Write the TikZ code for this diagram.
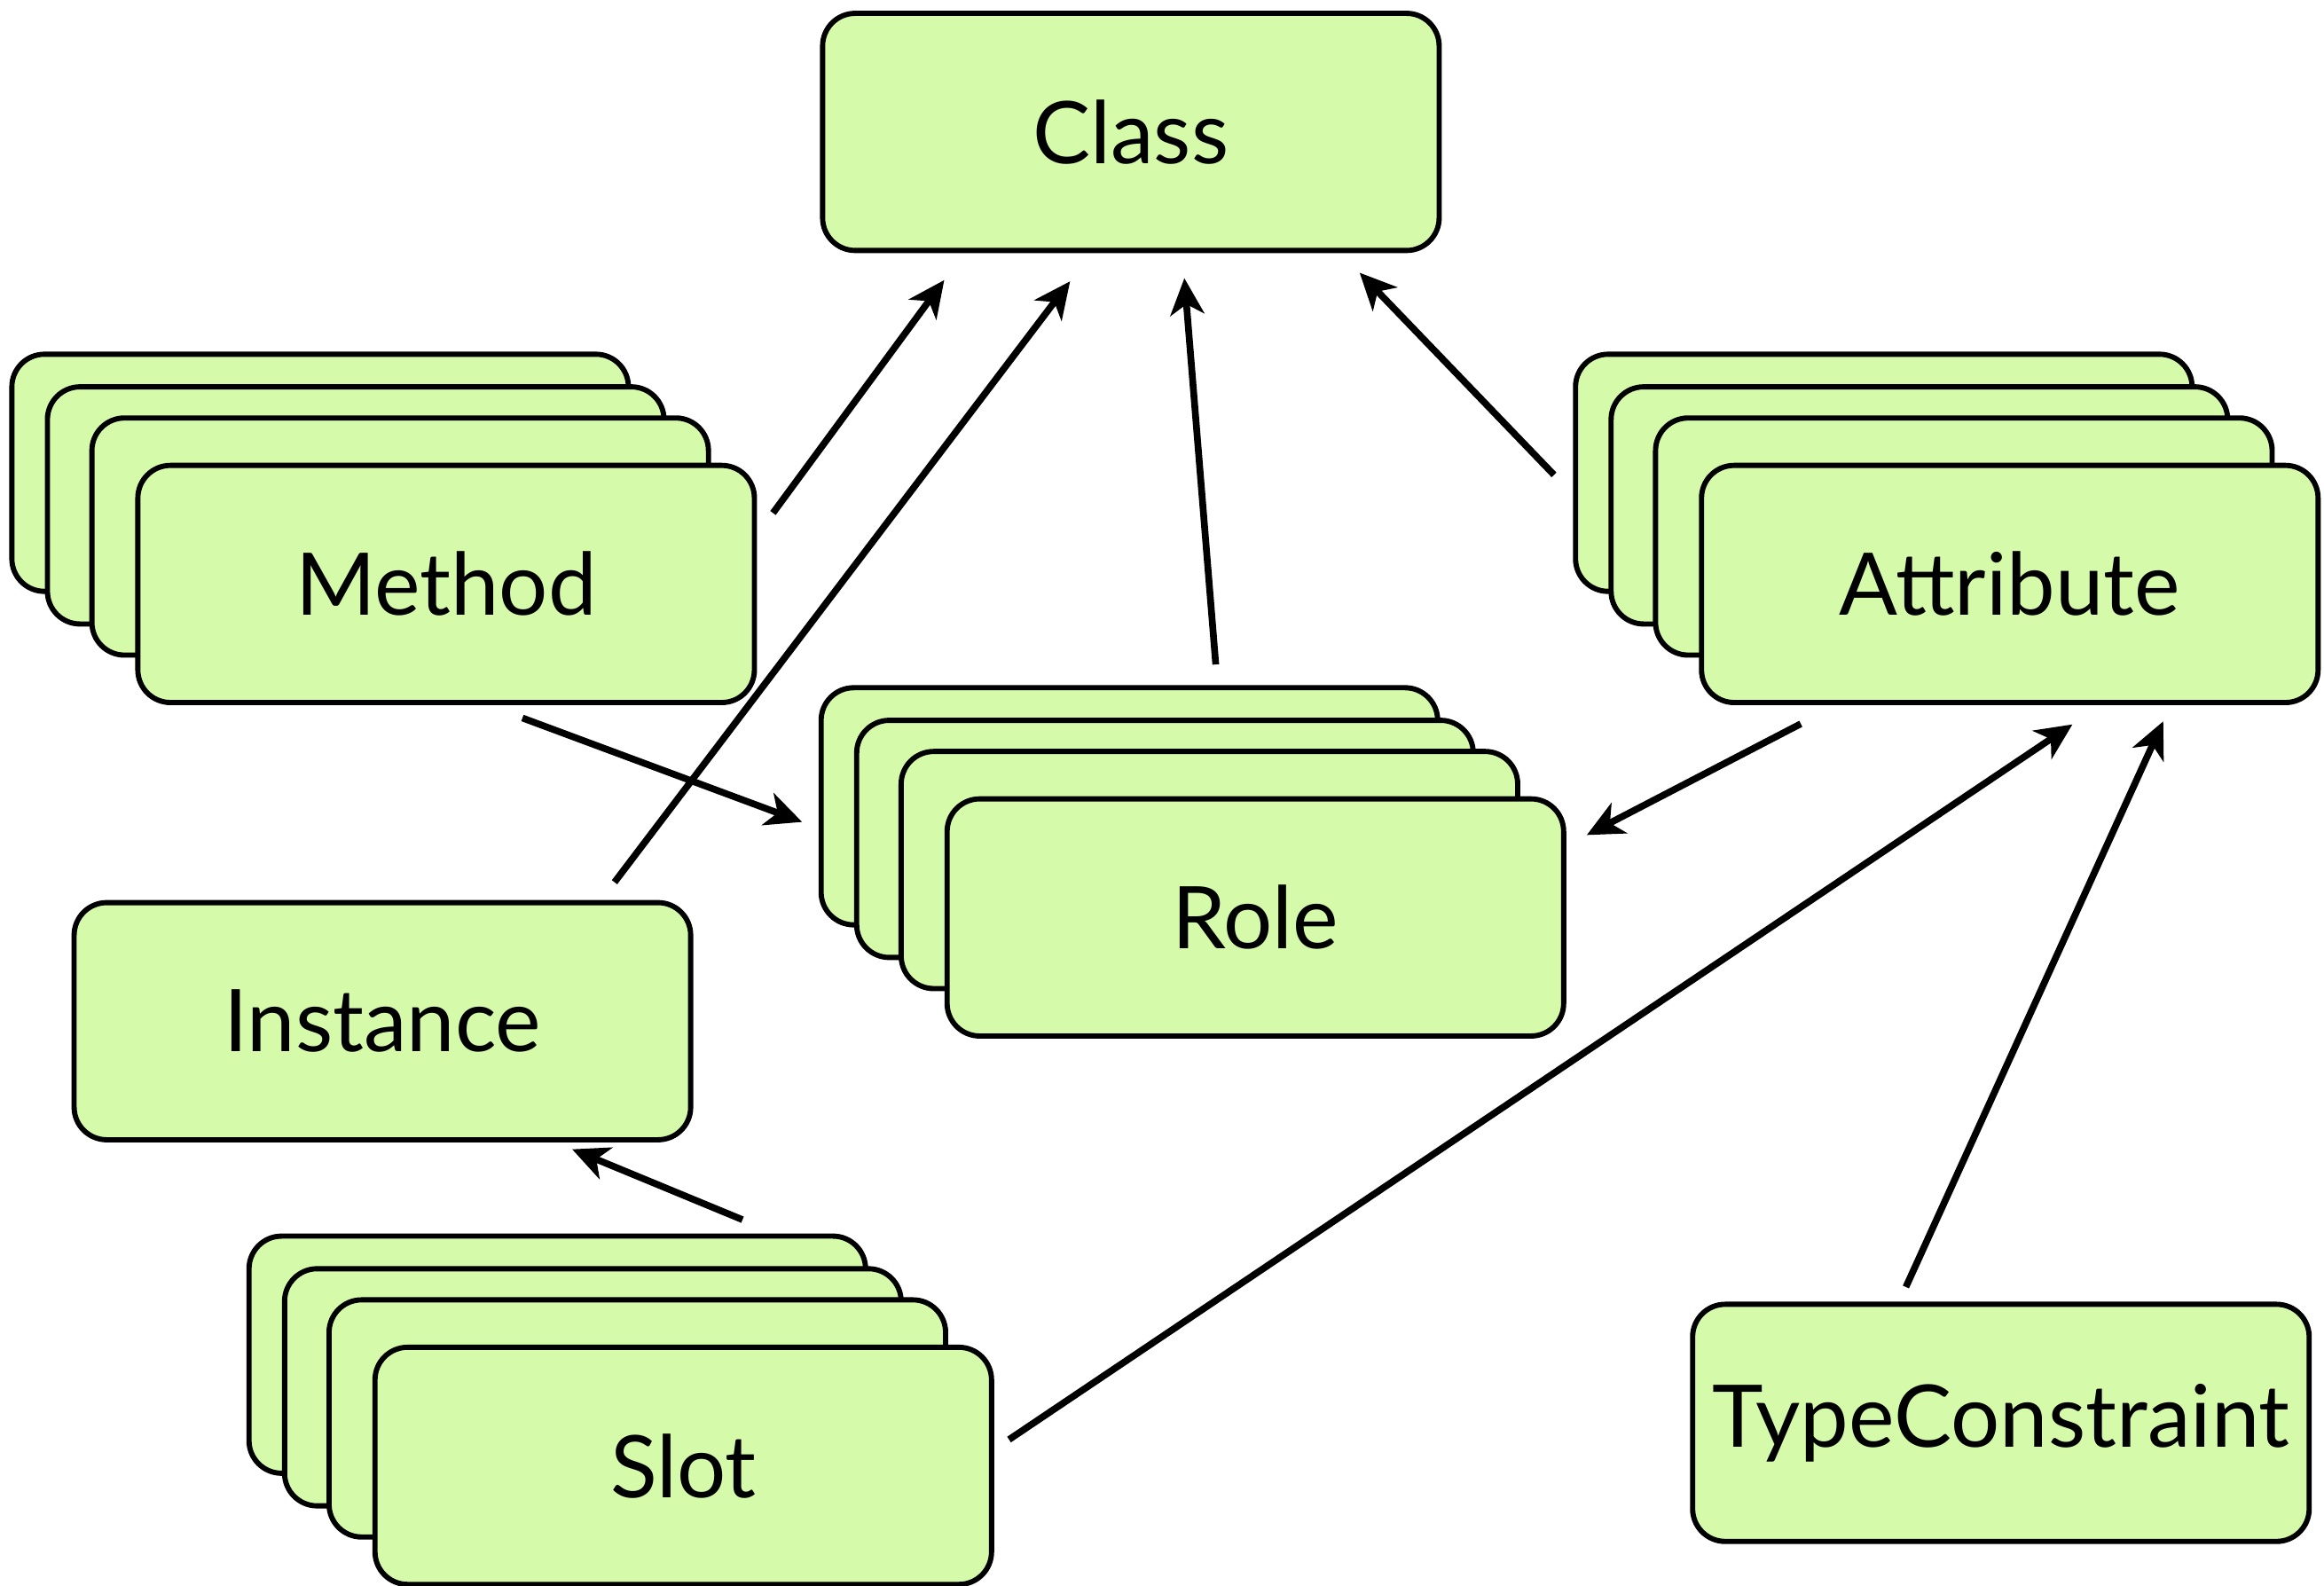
\documentclass[tikz,border=0pt]{standalone}
\usepackage{fontspec}
\setmainfont{Lato}
\usetikzlibrary{arrows.meta}
\definecolor{cardgreen}{RGB}{213,251,170}
\begin{document}
\begin{tikzpicture}[x=0.1mm,y=-0.1mm,
  card/.style={draw,line width=1pt,fill=cardgreen,rounded corners=2.2mm,
    minimum width=41.6mm,minimum height=16mm,inner sep=0pt,
    font=\fontsize{16.6pt}{20pt}\selectfont},
  link/.style={line width=1.3pt,-{Stealth[length=7pt,width=6.5pt,inset=2pt]}}]
\useasboundingbox (0,0) rectangle (1568,1070);
\node[card] (class) at (763,89) {Class};
\foreach \nm/\cx/\cy in {method/301/394,attr/1356/394,role/847/619,slot/461/989}
  \foreach \dx/\dy [count=\i] in {85/75,61/53,31/32}
    \node[card] (\nm\i) at ({\cx-\dx},{\cy-\dy}) {};
\node[card] (method) at (301,394) {Method};
\node[card] (attr) at (1356,394) {Attribute};
\node[card] (role) at (847,619) {Role};
\node[card] (slot) at (461,989) {Slot};
\node[card] (inst) at (258,689) {Instance};
\node[card] (tc) at (1350,960) {TypeConstraint};
\draw[link,shorten <=1.82mm,shorten >=2.26mm] (method.9.26) -- (class.216.45);
\draw[link,shorten <=1.51mm,shorten >=2.39mm] (inst.29.09) -- (class.252.97);
\draw[link,shorten <=1.40mm,shorten >=1.70mm] (role1.54.2) -- (class.-67.83);
\draw[link,shorten <=1.84mm,shorten >=1.84mm] (attr1.184.11) -- (class.-30.65);
\draw[link,shorten <=2.49mm,shorten >=1.18mm] (method.-71.05) -- (role1.184.74);
\draw[link,shorten <=2.73mm,shorten >=1.56mm] (attr.215.98) -- (role.13.93);
\draw[link,shorten <=2.44mm,shorten >=1.22mm] (slot1.29.98) -- (inst.-35.08);
\draw[link,shorten <=1.21mm,shorten >=2.33mm] (slot.3.23) -- (attr.-53.28);
\draw[link,shorten <=1.09mm,shorten >=1.20mm] (tc.130.94) -- (attr.-37.16);
\end{tikzpicture}
\end{document}
